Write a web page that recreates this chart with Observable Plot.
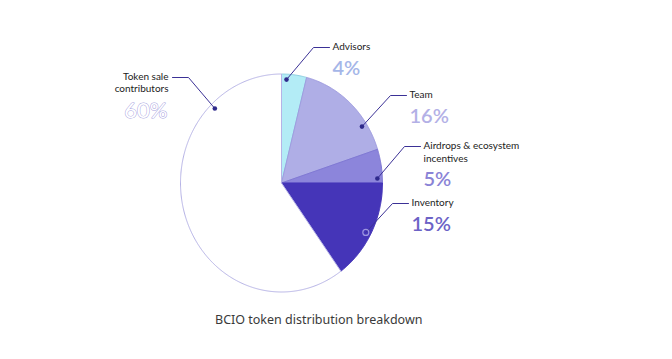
<!DOCTYPE html>
<html><head><meta charset="utf-8">
<script src="https://cdn.jsdelivr.net/npm/d3@7"></script>
<script src="https://cdn.jsdelivr.net/npm/@observablehq/plot@0.6"></script>
<style>
body{margin:0;background:#fff;width:672px;height:359px;overflow:hidden;font-family:Lato,"Noto Sans",sans-serif;}
#cap{position:absolute;left:215px;top:311px;font-family:"Noto Sans",sans-serif;font-size:12.5px;color:#3a3a3a;white-space:nowrap;}
</style></head>
<body>
<div id="chart"></div>
<div id="cap">BCIO token distribution breakdown</div>
<script>
// Data (clockwise from 12 o'clock)
const names   = ["Advisors", "Team", "Airdrops & ecosystem\nincentives", "Inventory", "Token sale\ncontributors"];
const shares  = [4, 16, 5, 15, 60];
const fills   = ["#b3ecf6", "#afaee6", "#8c85db", "#4535b8", "#ffffff"];
const strokes = ["#8fcfe0", "#9f9ce0", "#8079d4", "#4535b8", "#b6b3e6"];
const pctColors = ["#a5b6e8", "#b3b0e6", "#8a83d6", "#6c62c6", "#ffffff"];
// annotation layout (pixels): dot angle (deg clockwise from north), label anchor
const dotAngle = [3, 57, 87.5, 118.5, -44];
const labelX   = [332, 409, 423, 411, 168];
const labelY   = [47, 95, 146, 203, 77];
const side     = ["right", "right", "right", "right", "left"];

const W = 672, H = 300;
const cx = 281, cy = 182.5, rx = 101, ry = 109;
const ux = p => (p - cx) / rx;
const uy = p => (cy - p) / ry;

// slice polygons from shares
const total = d3.sum(shares);
let acc = 0;
const slicePts = [];
shares.forEach((v, i) => {
  const a0 = acc / total * 2 * Math.PI, a1 = (acc + v) / total * 2 * Math.PI;
  acc += v;
  const n = Math.max(4, Math.ceil((a1 - a0) / 0.01));
  slicePts.push({k: i, x: 0, y: 0, fill: fills[i], stroke: strokes[i]});
  for (let j = 0; j <= n; j++) {
    const a = a0 + (a1 - a0) * j / n;
    slicePts.push({k: i, x: Math.sin(a), y: Math.cos(a), fill: fills[i], stroke: strokes[i]});
  }
  slicePts.push({k: i, x: 0, y: 0, fill: fills[i], stroke: strokes[i]});
});

// leader lines & dots
const leaders = [], dots = [], labels = [], pcts = [];
names.forEach((nm, i) => {
  const a = dotAngle[i] * Math.PI / 180;
  const d = {x: 0.95 * Math.sin(a), y: 0.95 * Math.cos(a), i};
  dots.push(d);
  const lines = nm.split("\n");
  if (side[i] === "right") {
    leaders.push({k: i, x: d.x, y: d.y});
    leaders.push({k: i, x: ux(labelX[i] - 19), y: uy(labelY[i])});
    leaders.push({k: i, x: ux(labelX[i] - 3), y: uy(labelY[i])});
  } else {
    leaders.push({k: i, x: ux(labelX[i] + 4), y: uy(labelY[i])});
    leaders.push({k: i, x: ux(labelX[i] + 20), y: uy(labelY[i])});
    leaders.push({k: i, x: d.x, y: d.y});
  }
  labels.push({x: ux(labelX[i]), y: uy(labelY[i]), text: nm, side: side[i]});
  const py = labelY[i] + (lines.length - 1) * 12.5 + 21;
  pcts.push({x: ux(labelX[i] + (side[i] === "right" ? 0 : -2)), y: uy(py), text: shares[i] + "%", color: pctColors[i], side: side[i], i});
});

const font = "Lato, 'Noto Sans', sans-serif";
const chart = Plot.plot({
  width: W, height: H,
  margin: 0,
  x: {domain: [ux(0), ux(W)], axis: null},
  y: {domain: [uy(H), uy(0)], axis: null},
  marks: [
    Plot.line(slicePts, {x: "x", y: "y", z: "k", fill: "fill", stroke: "stroke", strokeWidth: 1, curve: "linear"}),
    Plot.line(leaders, {x: "x", y: "y", z: "k", stroke: "#3b3196", strokeWidth: 1}),
    Plot.dot(dots.filter(d => d.i !== 3), {x: "x", y: "y", r: 2.3, fill: "#2f2a8c", stroke: "none"}),
    Plot.dot(dots.filter(d => d.i === 3), {x: "x", y: "y", r: 3, fill: "none", stroke: "#9c95e0", strokeWidth: 1.2}),
    Plot.text(labels.filter(d => d.side === "right"), {x: "x", y: "y", text: "text", textAnchor: "start", fill: "#222", fontSize: 10, lineHeight: 1.25, lineAnchor: "top", dy: -6, fontFamily: font}),
    Plot.text(labels.filter(d => d.side === "left"), {x: "x", y: "y", text: "text", textAnchor: "end", fill: "#222", fontSize: 10, lineHeight: 1.2, lineAnchor: "top", dy: -6, fontFamily: font}),
    Plot.text(pcts.filter(d => d.i !== 4), {x: "x", y: "y", text: "text", textAnchor: "start", fill: "color", fontSize: 20, fontFamily: font, fontWeight: 600, lineAnchor: "middle"}),
    Plot.text(pcts.filter(d => d.i === 4), {x: "x", y: "y", text: "text", textAnchor: "end", fill: "#ffffff", stroke: "#a9a5e0", strokeWidth: 1, fontSize: 22, fontFamily: font, lineAnchor: "middle", dx: 1})
  ]
});
document.getElementById("chart").appendChild(chart);
</script>
</body></html>
